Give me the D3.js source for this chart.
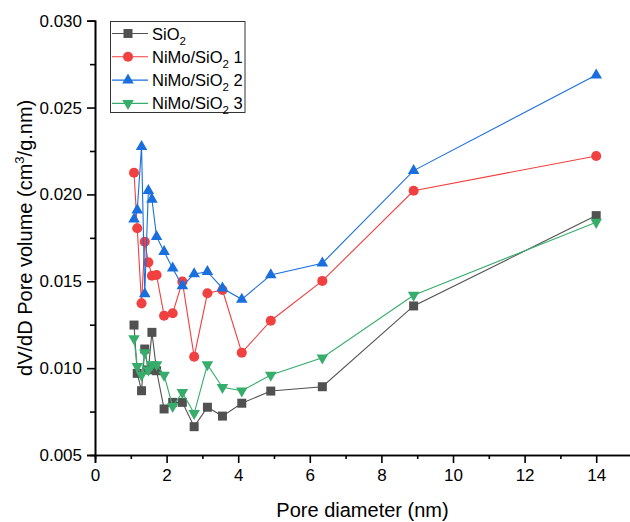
<!DOCTYPE html>
<html>
<head>
<meta charset="utf-8">
<script src="https://cdn.jsdelivr.net/npm/d3@7"></script>
<style>
    body { margin: 0; background: #fff; }
    text { font-family: "Liberation Sans", Arial, sans-serif; fill: #000; }
</style>
</head>
<body>
<script>
// Pore diameter (nm), shared by all samples
const poreDiameter = [1.09, 1.18, 1.30, 1.39, 1.49, 1.59, 1.72, 1.93, 2.17, 2.44, 2.77, 3.14, 3.56, 4.10, 4.91, 6.35, 8.90, 14.0];

// dV/dD pore volume (cm3/g.nm)
const sio2  = [0.01248, 0.0097, 0.0087, 0.0111, 0.0099, 0.01206, 0.00985, 0.00765, 0.00803, 0.00803, 0.00663, 0.00775, 0.00724, 0.00798, 0.00868, 0.00893, 0.01358, 0.01878];
const nimo1 = [0.02125, 0.01805, 0.01373, 0.01728, 0.01609, 0.01532, 0.01536, 0.01302, 0.01316, 0.01498, 0.01066, 0.01431, 0.0145, 0.01089, 0.01273, 0.01502, 0.02021, 0.02221];
const nimo2 = [0.01857, 0.0191, 0.02275, 0.01427, 0.02021, 0.01972, 0.01757, 0.0167, 0.01575, 0.01473, 0.01542, 0.01555, 0.0146, 0.01396, 0.01536, 0.01604, 0.02137, 0.02687];
const nimo3 = [0.0117, 0.0101, 0.0096, 0.0109, 0.0099, 0.0102, 0.0102, 0.0096, 0.0078, 0.0086, 0.0074, 0.0102, 0.0089, 0.0087, 0.0096, 0.0106, 0.0142, 0.0184];

const seriesNames = ["SiO2", "NiMo/SiO2 1", "NiMo/SiO2 2", "NiMo/SiO2 3"];
const yTicks = [0.005, 0.010, 0.015, 0.020, 0.025, 0.030];
const xTicks = [0, 2, 4, 6, 8, 10, 12, 14];

const width = 630;
const height = 522;

const series = [
    {name: seriesNames[0], values: sio2,  color: "#515151", symbol: "square"},
    {name: seriesNames[1], values: nimo1, color: "#F14040", symbol: "circle"},
    {name: seriesNames[2], values: nimo2, color: "#1A6FDF", symbol: "up"},
    {name: seriesNames[3], values: nimo3, color: "#37AD6B", symbol: "down"}
];

// Scales
const x = d3.scaleLinear().domain([0, 15]).range([95, 95 + 15 * 35.8]);
const y = d3.scaleLinear().domain([0.005, 0.030]).range([455, 20.7]);

const svg = d3.select("body").append("svg")
    .attr("width", width)
    .attr("height", height);

// Axes
const xAxis = svg.append("g")
    .attr("transform", `translate(0, ${y(0.005)})`)
    .call(d3.axisBottom(x).tickValues(xTicks).tickSize(8).tickPadding(6).tickFormat(d3.format("d")));
xAxis.append("g")
    .call(d3.axisBottom(x).tickValues(d3.range(1, 15, 2)).tickSize(4).tickFormat(""));

const yAxis = svg.append("g")
    .attr("transform", `translate(${x(0)}, 0)`)
    .call(d3.axisLeft(y).tickValues(yTicks).tickSize(8).tickPadding(5).tickFormat(d3.format(".3f")));
yAxis.append("g")
    .call(d3.axisLeft(y).tickValues([0.0075, 0.0125, 0.0175, 0.0225, 0.0275]).tickSize(5).tickFormat(""));

svg.selectAll(".domain").attr("stroke", "#000").attr("stroke-width", 1.6);
svg.selectAll(".tick line").attr("stroke", "#000").attr("stroke-width", 1.6);
svg.selectAll(".tick text").attr("font-size", "17px").attr("font-family", "Liberation Sans, Arial, sans-serif").attr("fill", "#000");

// Axis titles
svg.append("text")
    .attr("x", (x(0) + width) / 2)
    .attr("y", 517)
    .attr("text-anchor", "middle")
    .attr("font-size", "20px")
    .text("Pore diameter (nm)");

const yTitle = svg.append("text")
    .attr("transform", `translate(32, ${(y(0.005) + y(0.030)) / 2}) rotate(-90)`)
    .attr("text-anchor", "middle")
    .attr("font-size", "20px");
yTitle.append("tspan").text("dV/dD Pore volume (cm");
yTitle.append("tspan").attr("font-size", "13px").attr("dy", -8).text("3");
yTitle.append("tspan").attr("dy", 8).text("/g.nm)");

// Markers
function drawSymbol(sel, kind, color) {
    if (kind === "square") {
        sel.append("path").attr("d", d3.symbol(d3.symbolSquare, 81)()).attr("fill", color);
    } else if (kind === "circle") {
        sel.append("path").attr("d", d3.symbol(d3.symbolCircle, 80)()).attr("fill", color);
    } else if (kind === "up") {
        sel.append("path").attr("d", d3.symbol(d3.symbolTriangle, 58)()).attr("fill", color);
    } else {
        sel.append("path").attr("d", d3.symbol(d3.symbolTriangle, 58)())
            .attr("transform", "rotate(180)").attr("fill", color);
    }
}

const line = d3.line()
    .x((d) => {return x(d[0])})
    .y((d) => {return y(d[1])});

series.forEach((s) => {
    const pts = poreDiameter.map((d, i) => [d, s.values[i]]);
    const g = svg.append("g");
    g.append("path")
        .datum(pts)
        .attr("d", line)
        .attr("fill", "none")
        .attr("stroke", s.color)
        .attr("stroke-width", 1.1);
    g.selectAll(".mark").data(pts).enter().append("g")
        .attr("class", "mark")
        .attr("transform", (d) => {return `translate(${x(d[0])}, ${y(d[1])})`})
        .each(function() { drawSymbol(d3.select(this), s.symbol, s.color); });
});

// Legend
const legend = svg.append("g");
legend.append("rect")
    .attr("x", 110.5).attr("y", 21.5)
    .attr("width", 134.5).attr("height", 91)
    .attr("fill", "#fff")
    .attr("stroke", "#333")
    .attr("stroke-width", 1);

series.forEach((s, i) => {
    const ly = 33.5 + i * 23.3;
    const item = legend.append("g");
    item.append("line")
        .attr("x1", 112).attr("x2", 148)
        .attr("y1", ly).attr("y2", ly)
        .attr("stroke", s.color)
        .attr("stroke-width", 1.1);
    const m = item.append("g").attr("transform", `translate(128, ${ly})`);
    drawSymbol(m, s.symbol, s.color);
    const t = item.append("text")
        .attr("x", 152)
        .attr("y", ly + 6)
        .attr("font-size", "16.5px");
    const parts = s.name.match(/^(.*SiO)2(.*)$/);
    t.append("tspan").text(parts[1]);
    t.append("tspan").attr("font-size", "11.5px").attr("dy", 5).text("2");
    t.append("tspan").attr("dy", -5).text(parts[2]);
});
</script>
</body>
</html>
